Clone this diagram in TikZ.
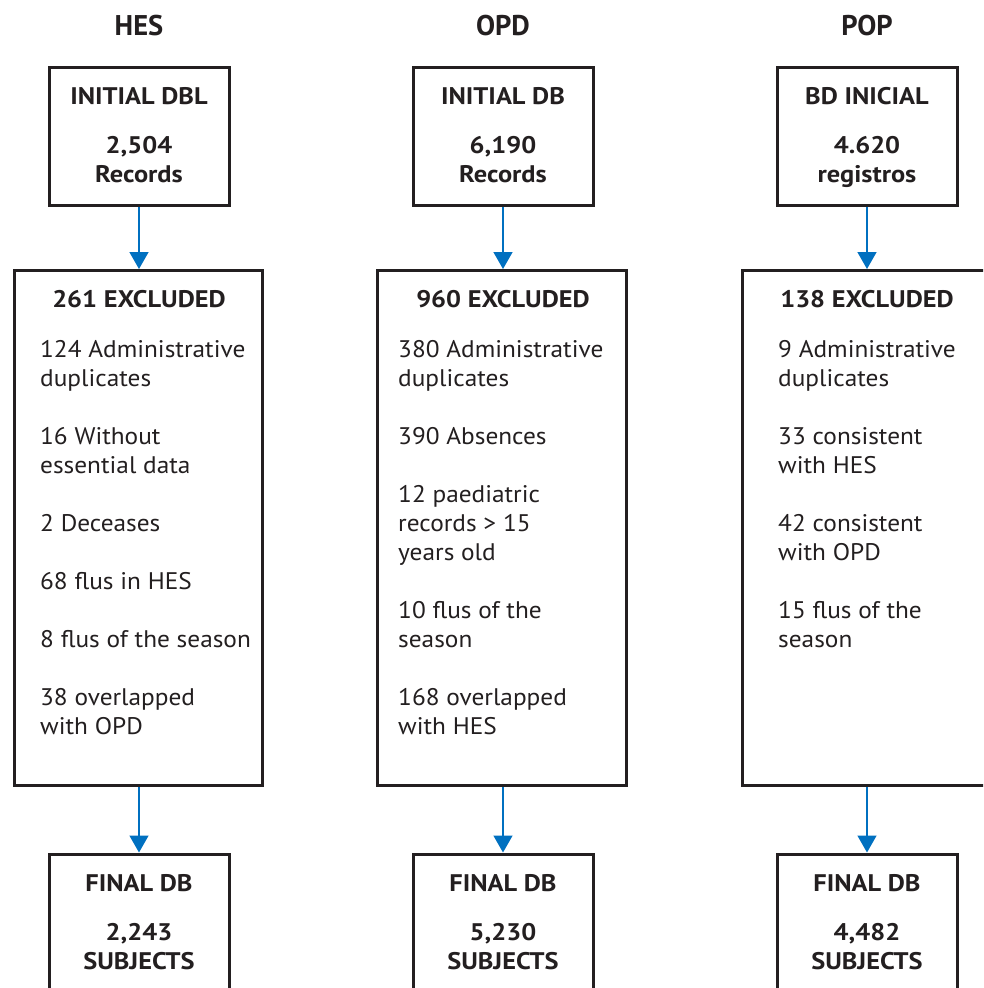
\documentclass[tikz,border=0pt]{standalone}
\usepackage{fontspec}
\setmainfont{PT Sans}[FakeStretch=1.055, BoldFeatures={FakeStretch=1.1}]
\newfontfamily\headfont{PT Sans}
\usetikzlibrary{arrows.meta}
\definecolor{ink}{HTML}{231F20}
\definecolor{flow}{HTML}{0070C0}
\tikzset{
  box/.style={draw=ink, line width=3pt, fill=none, inner sep=0pt},
  flowarrow/.style={draw=flow, line width=1.5pt, -{Triangle[width=19pt,length=17pt]}},
  head/.style={text=ink, inner sep=0pt, anchor=base, font=\headfont\fontsize{28.5}{30}\selectfont\bfseries},
  boldline/.style={text=ink, inner sep=0pt, anchor=base, font=\fontsize{24}{29}\selectfont\bfseries},
  bodyline/.style={text=ink, inner sep=0pt, anchor=base west, font=\fontsize{24}{29}\selectfont},
}
\begin{document}
\begin{tikzpicture}[x=1pt,y=-1pt]
\useasboundingbox (0,0) rectangle (983,988);
\clip (0,0) rectangle (983,988);
\fill[white] (0,0) rectangle (983,988);

% headers
\node[head] (hHES) at (139,35) {HES};
\node[head] (hOPD) at (503,35) {OPD};
\node[head] (hPOP) at (867,35) {POP};

% top boxes
\node[box, minimum width=180pt, minimum height=138pt] (hesTop) at (139,136) {};
\node[box, minimum width=180pt, minimum height=138pt] (opdTop) at (503,136) {};
\node[box, minimum width=180pt, minimum height=138pt] (popTop) at (867,136) {};

\node[boldline] (hesTopA) at (139,104) {INITIAL DBL};
\node[boldline] (hesTopB) at (139,153) {2,504};
\node[boldline] (hesTopC) at (139,182) {Records};
\node[boldline] (opdTopA) at (503,104) {INITIAL DB};
\node[boldline] (opdTopB) at (503,153) {6,190};
\node[boldline] (opdTopC) at (503,182) {Records};
\node[boldline] (popTopA) at (867,104) {BD INICIAL};
\node[boldline] (popTopB) at (867,153) {4.620};
\node[boldline] (popTopC) at (867,182) {registros};

% middle boxes
\node[box, minimum width=248pt, minimum height=515pt] (hesMid) at (138,528) {};
\node[box, minimum width=249pt, minimum height=515pt] (opdMid) at (502,528) {};
\node[box, minimum width=249pt, minimum height=515pt] (popMid) at (867,528) {};

\node[boldline] (hesMidT) at (139,307) {261 EXCLUDED};
\node[boldline] (opdMidT) at (503,307) {960 EXCLUDED};
\node[boldline] (popMidT) at (867,307) {138 EXCLUDED};

\foreach \k/\t in {0/124 Administrative, 1/duplicates, 3/16 Without, 4/essential data,
  6/2 Deceases, 8/68 flus in HES, 10/8 flus of the season, 12/38 overlapped, 13/with OPD}
  \node[bodyline] (hesL\k) at (40,357+29*\k) {\t};
\foreach \k/\t in {0/380 Administrative, 1/duplicates, 3/390 Absences, 5/12 paediatric,
  6/records > 15, 7/years old, 9/10 flus of the, 10/season, 12/168 overlapped, 13/with HES}
  \node[bodyline] (opdL\k) at (398,357+29*\k) {\t};
\foreach \k/\t in {0/9 Administrative, 1/duplicates, 3/33 consistent, 4/with HES,
  6/42 consistent, 7/with OPD, 9/15 flus of the, 10/season}
  \node[bodyline] (popL\k) at (778,357+29*\k) {\t};

% final boxes
\node[box, minimum width=180pt, minimum height=160pt] (hesFin) at (139,934) {};
\node[box, minimum width=180pt, minimum height=160pt] (opdFin) at (503,934) {};
\node[box, minimum width=180pt, minimum height=160pt] (popFin) at (867,934) {};

\node[boldline] (hesFinA) at (139,891) {FINAL DB};
\node[boldline] (hesFinB) at (139,940) {2,243};
\node[boldline] (hesFinC) at (139,969) {SUBJECTS};
\node[boldline] (opdFinA) at (503,891) {FINAL DB};
\node[boldline] (opdFinB) at (503,940) {5,230};
\node[boldline] (opdFinC) at (503,969) {SUBJECTS};
\node[boldline] (popFinA) at (867,891) {FINAL DB};
\node[boldline] (popFinB) at (867,940) {4,482};
\node[boldline] (popFinC) at (867,969) {SUBJECTS};

% arrows
\draw[flowarrow] (hesTop.south) -- (hesTop.south |- hesMid.north);
\draw[flowarrow] (opdTop.south) -- (opdTop.south |- opdMid.north);
\draw[flowarrow] (popTop.south) -- (popTop.south |- popMid.north);
\draw[flowarrow] (hesTop.south |- hesMid.south) -- (hesFin.north);
\draw[flowarrow] (opdTop.south |- opdMid.south) -- (opdFin.north);
\draw[flowarrow] (popMid.south) -- (popFin.north);
\end{tikzpicture}
\end{document}
